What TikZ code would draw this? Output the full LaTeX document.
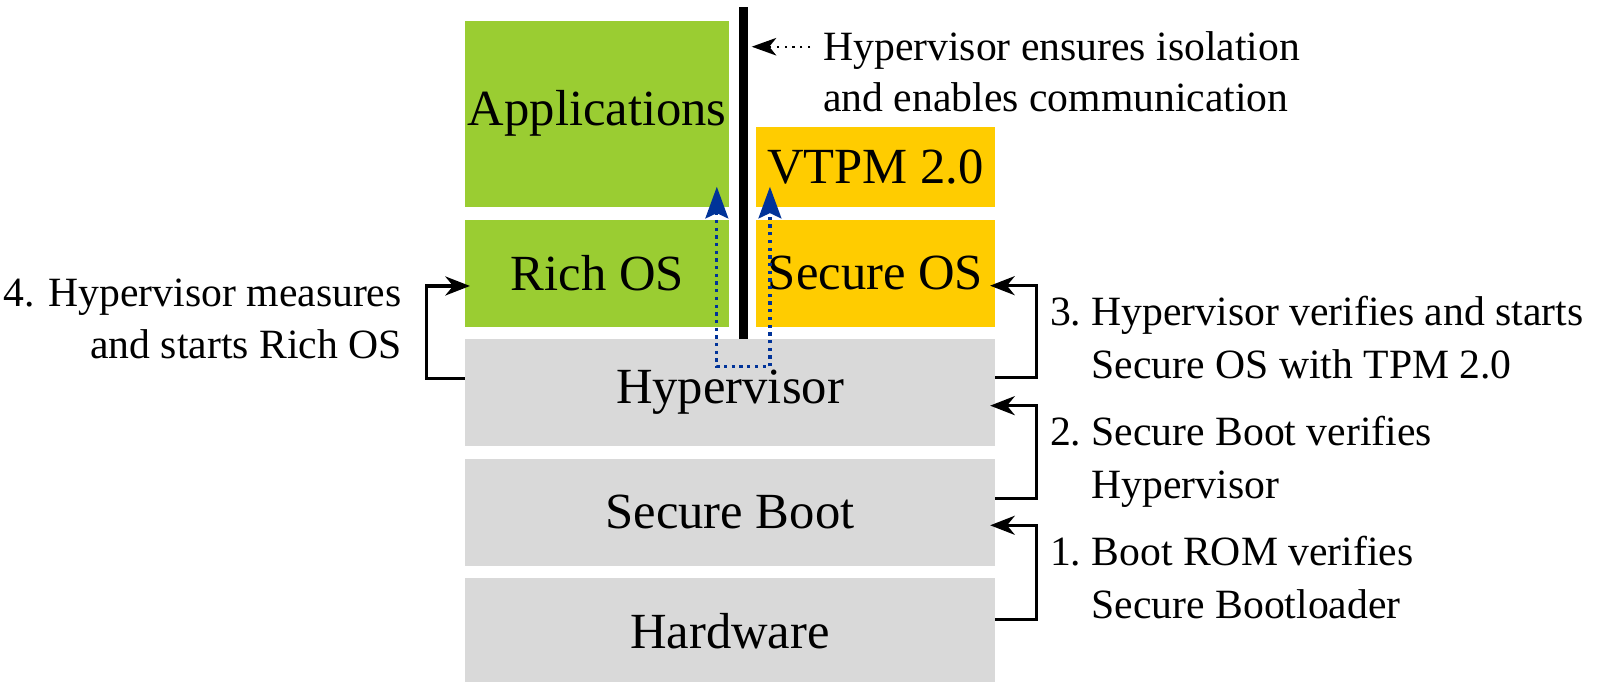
\documentclass[tikz,border=0pt]{standalone}
\usepackage{fontspec}
\setmainfont{Liberation Serif}
\usetikzlibrary{arrows.meta,calc}
\definecolor{appgreen}{HTML}{9ACD32}
\definecolor{secgold}{HTML}{FFCC00}
\definecolor{layergray}{HTML}{D9D9D9}
\definecolor{linkblue}{HTML}{003399}
\begin{document}
\begin{tikzpicture}[x=0.01cm,y=-0.01cm,
  layer/.style={inner sep=0pt, outer sep=0pt, font=\fontsize{14.4}{17}\selectfont},
  note/.style={inner sep=0pt, outer sep=0pt, font=\fontsize{11.85}{14.7}\selectfont},
  stepnote/.style={inner sep=0pt, outer sep=0pt, font=\fontsize{11.85}{15.1}\selectfont},
  conn/.style={line width=0.94pt, -{Stealth[length=7pt,width=5.4pt,inset=2.2pt]}},
  bluelink/.style={linkblue, line width=0.94pt, dash pattern=on 0.94pt off 1.25pt,
    {Stealth[length=9pt,width=6.5pt,inset=1.5pt]}-{Stealth[length=9pt,width=6.5pt,inset=1.5pt]}},
  hintarrow/.style={line width=0.6pt, dash pattern=on 0.6pt off 1.6pt,
    -{Stealth[length=7pt,width=5pt,inset=2pt]}}
]
\useasboundingbox (0,0) rectangle (1600,681);

% software stack
\node[layer, fill=appgreen, minimum width=2.643cm, minimum height=1.86cm] (app) at (597.2,113.7) {Applications};
\node[layer, fill=appgreen, minimum width=2.643cm, minimum height=1.067cm] (rich) at (597.2,273.35) {Rich OS};
\node[layer, fill=secgold, minimum width=2.39cm, minimum height=0.8cm] (vtpm) at (875.5,166.7) {VTPM 2.0};
\node[layer, fill=secgold, minimum width=2.39cm, minimum height=1.067cm] (secos) at (875.5,273.35) {Secure OS};
\node[layer, fill=layergray, minimum width=5.3cm, minimum height=1.064cm] (hyp) at (730,392.5) {Hypervisor};
\node[layer, fill=layergray, minimum width=5.3cm, minimum height=1.067cm] (sb) at (730,512.35) {Secure Boot};
\node[layer, fill=layergray, minimum width=5.3cm, minimum height=1.067cm] (hw) at (730,631.35) {Hardware};

% isolation barrier
\node[fill=black, inner sep=0pt, outer sep=0pt, minimum width=0.09cm, minimum height=3.317cm] (bar) at (743.5,173.15) {};

% boot chain
\draw[conn] ($(hw.north east)+(0,41.3)$) -- ++(41,0) |- ($(sb.north east)+(-5,66.3)$);
\draw[conn] ($(sb.north east)+(0,39.3)$) -- ++(41,0) |- ($(hyp.north east)+(-5,66.4)$);
\draw[conn] ($(hyp.north east)+(0,38.4)$) -- ++(41,0) |- ($(secos.north east)+(-5,65.7)$);
\draw[conn] ($(hyp.north west)+(0,39)$) -- ++(-38.3,0) |- ($(rich.north west)+(5,66)$);

% communication through the hypervisor
\draw[bluelink] ($(app.south east)+(-12.6,-20)$) |- ($(hyp.north)+(0,27.4)$) -| ($(vtpm.south west)+(14,-20)$);

% note on the barrier
\coordinate (tail) at (810,46.7);
\draw[hintarrow] (tail) -- ($(bar.east |- tail)+(3.7,0)$);
\node[note, anchor=base west] (hint) at (823.3,60)
  {\begin{tabular}[t]{@{}l@{}}Hypervisor ensures isolation\\and enables communication\end{tabular}};

% step labels
\node[note, anchor=base east] (step4) at (401.7,306.7)
  {\begin{tabular}[t]{@{}r@{}}4. Hypervisor measures\\and starts Rich OS\end{tabular}};
\node[stepnote, anchor=base west] (step3) at (1050,325)
  {\begin{tabular}[t]{@{}l@{\ }l@{}}3.& Hypervisor verifies and starts\\ & Secure OS with TPM 2.0\end{tabular}};
\node[stepnote, anchor=base west] (step2) at (1050,445)
  {\begin{tabular}[t]{@{}l@{\ }l@{}}2.& Secure Boot verifies\\ & Hypervisor\end{tabular}};
\node[stepnote, anchor=base west] (step1) at (1050,565)
  {\begin{tabular}[t]{@{}l@{\ }l@{}}1.& Boot ROM verifies\\ & Secure Bootloader\end{tabular}};
\end{tikzpicture}
\end{document}
